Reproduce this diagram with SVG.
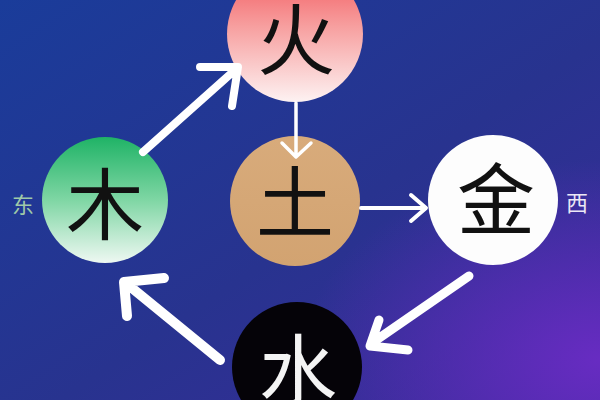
<svg xmlns="http://www.w3.org/2000/svg" width="600" height="400" viewBox="0 0 600 400">
<defs>
<linearGradient id="bg" x1="0" y1="0" x2="1" y2="1">
<stop offset="0" stop-color="#1a3c9a"/>
<stop offset="0.55" stop-color="#28338f"/>
<stop offset="1" stop-color="#3a2a9a"/>
</linearGradient>
<radialGradient id="bgp" cx="1" cy="0.9" r="0.5">
<stop offset="0" stop-color="#6a2cc4" stop-opacity="0.95"/>
<stop offset="1" stop-color="#6a2cc4" stop-opacity="0"/>
</radialGradient>
<linearGradient id="fire" x1="0" y1="0" x2="0" y2="1">
<stop offset="0" stop-color="#f2555a"/>
<stop offset="0.45" stop-color="#f7a0a0"/>
<stop offset="1" stop-color="#fdf2f2"/>
</linearGradient>
<linearGradient id="wood" x1="0" y1="0" x2="0" y2="1">
<stop offset="0" stop-color="#1fb366"/>
<stop offset="0.5" stop-color="#7fd6a4"/>
<stop offset="1" stop-color="#eef8f2"/>
</linearGradient>
<linearGradient id="earth" x1="0" y1="0" x2="0" y2="1">
<stop offset="0" stop-color="#d8ab7b"/>
<stop offset="1" stop-color="#d2a371"/>
</linearGradient>
</defs>
<style>
.big{font-family:"Noto Sans CJK SC","Noto Sans CJK JP",sans-serif;font-size:78px;font-weight:400;text-anchor:middle;dominant-baseline:central}
.small{font-family:"Noto Sans CJK SC","Noto Sans CJK JP",sans-serif;font-size:22px;text-anchor:middle;dominant-baseline:central}
.arr{fill:none;stroke:#ffffff;stroke-linecap:round;stroke-linejoin:round}
</style>
<rect width="600" height="400" fill="url(#bg)"/>
<rect width="600" height="400" fill="url(#bgp)"/>
<g id="fire-node">
<circle cx="295" cy="34" r="68" fill="url(#fire)"/>
<text class="big" x="296" y="35" fill="#111">火</text>
</g>
<g id="wood-node">
<circle cx="105" cy="200" r="63" fill="url(#wood)"/>
<text class="big" x="105" y="200" fill="#111">木</text>
</g>
<g id="earth-node">
<circle cx="295" cy="201" r="65" fill="url(#earth)"/>
<text class="big" x="295" y="198" fill="#111">土</text>
</g>
<g id="metal-node">
<circle cx="493" cy="200" r="65" fill="#fdfdfd"/>
<text class="big" x="496" y="195" fill="#111">金</text>
</g>
<g id="water-node">
<circle cx="297" cy="367" r="65" fill="#050308"/>
<text class="big" x="298" y="366" fill="#f4f4f4">水</text>
</g>
<g id="connectors">
<path class="arr" stroke-width="8" d="M143,152 L235,70 M200,67 L238,67 L232,106"/>
<path class="arr" stroke-width="3.5" d="M296,103 L296,156 M282,143 L296,157 L311,143"/>
<path class="arr" stroke-width="4" d="M361,208 L425,208 M411,195 L426,208 L411,221"/>
<path class="arr" stroke-width="9" d="M469,276 L372,343 M379,320 L370,346 L408,350"/>
<path class="arr" stroke-width="10" d="M220,360 L127,284 M127,316 L124,282 L164,278"/>
</g>
<g id="labels">
<text class="small" x="23" y="203" fill="#9fc9a8">东</text>
<text class="small" x="577" y="201" fill="#ece8f6">西</text>
</g>
</svg>
